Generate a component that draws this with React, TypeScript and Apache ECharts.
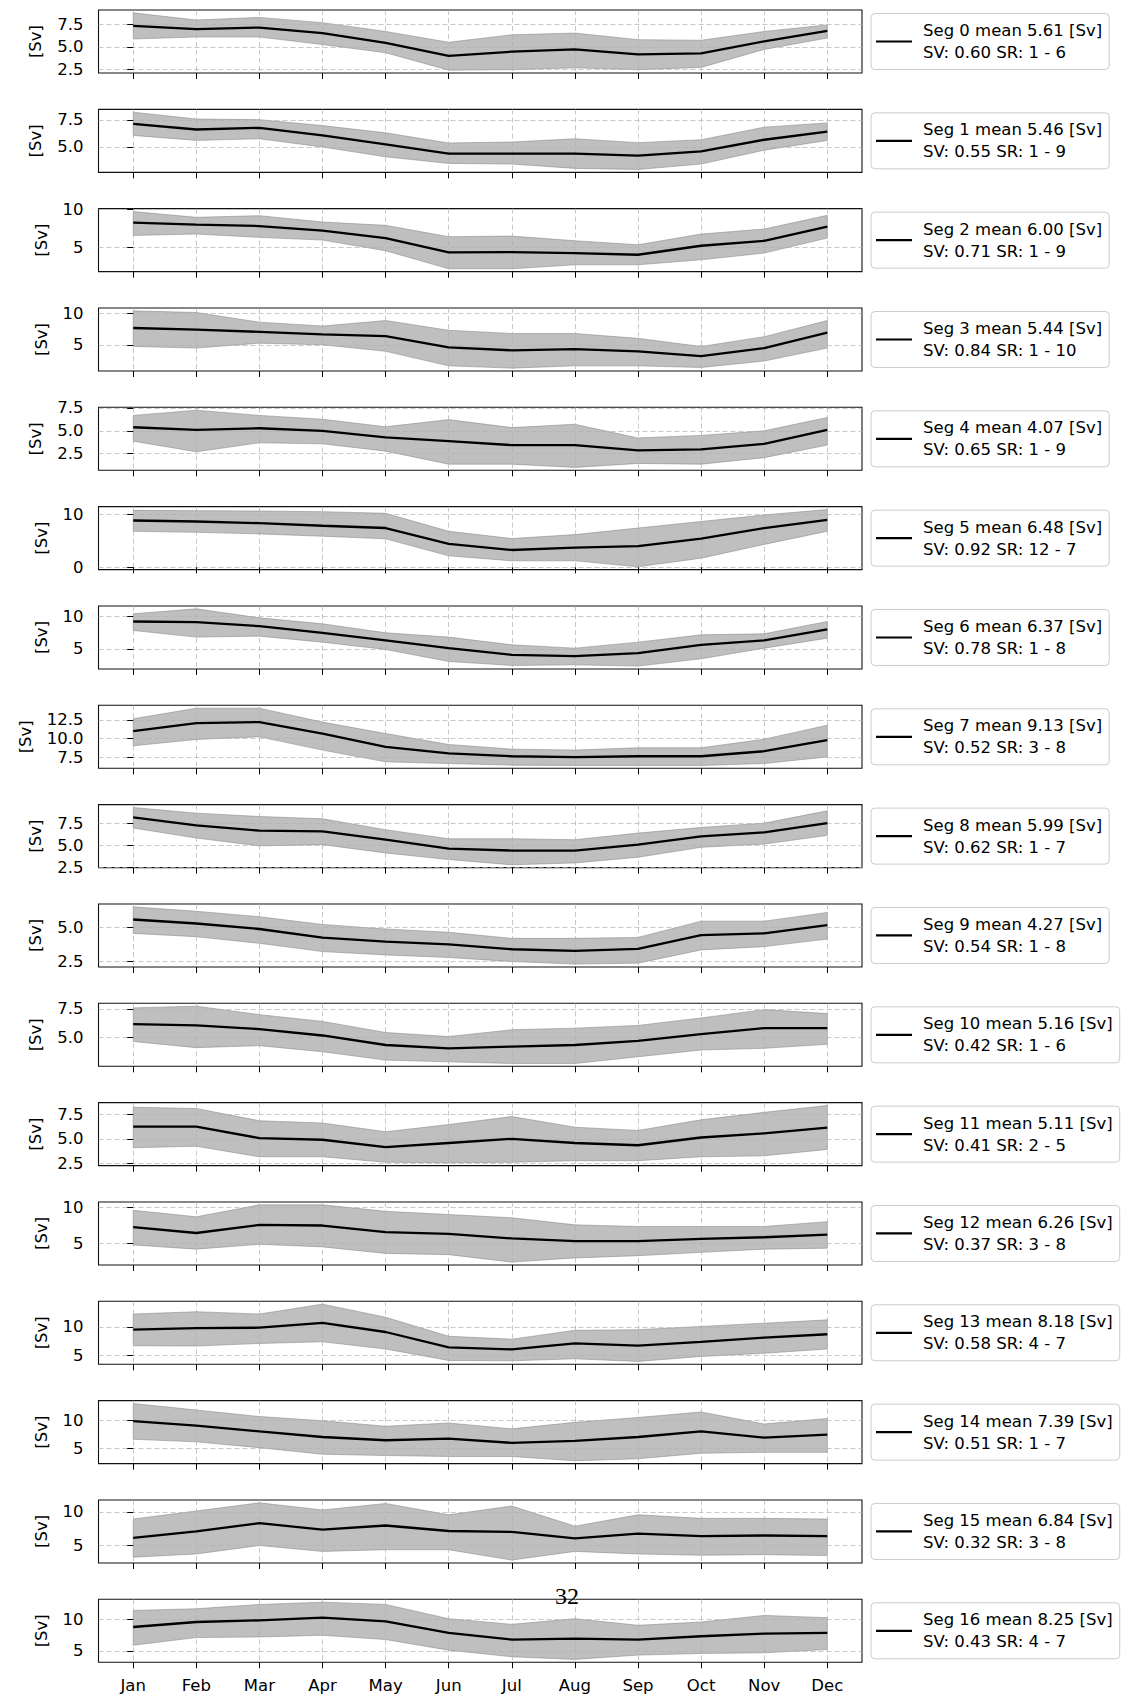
import React, { useEffect, useRef } from "react";
import * as echarts from "echarts";

// ---------- data ----------
const months = ["Jan", "Feb", "Mar", "Apr", "May", "Jun", "Jul", "Aug", "Sep", "Oct", "Nov", "Dec"];

const segMeanText = ["5.61", "5.46", "6.00", "5.44", "4.07", "6.48", "6.37", "9.13", "5.99", "4.27", "5.16", "5.11", "6.26", "8.18", "7.39", "6.84", "8.25"];
const segSV = ["0.60", "0.55", "0.71", "0.84", "0.65", "0.92", "0.78", "0.52", "0.62", "0.54", "0.42", "0.41", "0.37", "0.58", "0.51", "0.32", "0.43"];
const segSR = ["1 - 6", "1 - 9", "1 - 9", "1 - 10", "1 - 9", "12 - 7", "1 - 8", "3 - 8", "1 - 7", "1 - 8", "1 - 6", "2 - 5", "3 - 8", "4 - 7", "1 - 7", "3 - 8", "4 - 7"];

const yTicks = [
  [2.5, 5.0, 7.5],
  [5.0, 7.5],
  [5, 10],
  [5, 10],
  [2.5, 5.0, 7.5],
  [0, 10],
  [5, 10],
  [7.5, 10.0, 12.5],
  [2.5, 5.0, 7.5],
  [2.5, 5.0],
  [5.0, 7.5],
  [2.5, 5.0, 7.5],
  [5, 10],
  [5, 10],
  [5, 10],
  [5, 10],
  [5, 10],
];

const meanValues = [
  [7.32, 6.96, 7.14, 6.53, 5.45, 4.01, 4.48, 4.73, 4.19, 4.30, 5.63, 6.78],
  [7.13, 6.62, 6.77, 6.07, 5.24, 4.39, 4.39, 4.39, 4.21, 4.60, 5.67, 6.43],
  [8.27, 8.01, 7.83, 7.21, 6.24, 4.34, 4.38, 4.25, 4.03, 5.22, 5.88, 7.74],
  [7.68, 7.42, 7.06, 6.65, 6.39, 4.59, 4.12, 4.33, 3.97, 3.20, 4.48, 6.96],
  [5.39, 5.11, 5.28, 5.00, 4.29, 3.87, 3.44, 3.44, 2.87, 2.98, 3.58, 5.11],
  [8.83, 8.64, 8.33, 7.84, 7.41, 4.44, 3.27, 3.70, 4.01, 5.43, 7.41, 8.95],
  [9.18, 9.08, 8.47, 7.45, 6.28, 5.10, 4.08, 3.88, 4.34, 5.61, 6.28, 7.96],
  [10.97, 12.06, 12.19, 10.66, 8.89, 8.01, 7.63, 7.50, 7.63, 7.63, 8.30, 9.78],
  [8.14, 7.24, 6.64, 6.56, 5.62, 4.62, 4.39, 4.39, 5.06, 6.00, 6.45, 7.50],
  [5.55, 5.26, 4.86, 4.23, 3.94, 3.75, 3.39, 3.27, 3.41, 4.42, 4.54, 5.14],
  [6.18, 6.06, 5.74, 5.18, 4.35, 4.06, 4.21, 4.35, 4.71, 5.29, 5.82, 5.82],
  [6.25, 6.25, 5.07, 4.90, 4.14, 4.57, 5.00, 4.57, 4.34, 5.13, 5.56, 6.15],
  [7.26, 6.46, 7.57, 7.48, 6.59, 6.33, 5.71, 5.35, 5.35, 5.66, 5.88, 6.24],
  [9.48, 9.77, 9.83, 10.69, 9.08, 6.38, 6.03, 7.07, 6.67, 7.36, 8.10, 8.68],
  [9.94, 9.12, 8.06, 7.06, 6.47, 6.76, 6.00, 6.35, 7.06, 8.06, 6.94, 7.47],
  [6.15, 7.12, 8.32, 7.36, 7.98, 7.16, 7.02, 6.06, 6.78, 6.39, 6.49, 6.39],
  [8.83, 9.63, 9.89, 10.32, 9.73, 7.87, 6.81, 6.97, 6.81, 7.34, 7.77, 7.87],
];

const upperValues = [
  [8.76, 7.97, 8.26, 7.68, 6.71, 5.52, 6.35, 6.53, 5.81, 5.74, 6.71, 7.43],
  [8.22, 7.59, 7.53, 6.98, 6.31, 5.37, 5.46, 5.76, 5.40, 5.67, 6.83, 7.23],
  [9.75, 8.98, 9.20, 8.36, 7.92, 6.42, 6.50, 5.88, 5.35, 6.77, 7.43, 9.25],
  [10.41, 10.15, 8.61, 7.99, 8.87, 7.32, 6.80, 6.80, 6.03, 4.74, 6.29, 8.87],
  [6.68, 7.25, 6.68, 6.26, 5.44, 6.22, 5.35, 5.71, 4.22, 4.50, 5.00, 6.45],
  [10.74, 10.68, 10.62, 10.49, 10.19, 6.79, 5.43, 6.17, 7.41, 8.64, 9.88, 10.90],
  [10.36, 11.12, 9.74, 8.83, 7.45, 6.79, 5.61, 5.10, 6.02, 7.14, 7.30, 9.18],
  [12.63, 14.05, 14.05, 12.19, 10.66, 9.20, 8.58, 8.45, 8.76, 8.76, 9.91, 11.77],
  [9.27, 8.63, 8.25, 7.99, 6.75, 5.73, 5.73, 5.62, 6.37, 7.01, 7.50, 8.89],
  [6.47, 6.15, 5.75, 5.19, 4.86, 4.62, 4.18, 4.18, 4.25, 5.43, 5.43, 6.06],
  [7.59, 7.74, 7.00, 6.41, 5.44, 5.09, 5.68, 5.82, 6.06, 6.71, 7.44, 7.09],
  [8.22, 8.09, 6.84, 6.61, 5.72, 6.45, 7.27, 6.18, 5.85, 6.94, 7.70, 8.40],
  [9.56, 8.67, 10.31, 10.31, 9.42, 8.98, 8.54, 7.57, 7.35, 7.35, 7.35, 8.01],
  [12.24, 12.64, 12.24, 13.97, 11.67, 8.33, 7.82, 9.37, 9.48, 10.06, 10.63, 11.21],
  [13.12, 11.94, 10.76, 10.00, 9.00, 9.59, 8.53, 9.71, 10.59, 11.59, 9.41, 10.41],
  [8.94, 10.14, 11.35, 10.29, 11.25, 9.57, 10.87, 7.88, 9.57, 9.04, 9.04, 8.94],
  [11.49, 11.76, 12.45, 12.82, 12.45, 10.16, 9.26, 10.16, 9.10, 9.63, 10.69, 10.32],
];

const lowerValues = [
  [5.88, 6.10, 6.10, 5.27, 4.37, 2.45, 2.50, 2.70, 2.50, 2.75, 4.73, 5.99],
  [6.07, 5.61, 5.76, 5.00, 4.09, 3.48, 3.42, 3.02, 2.92, 3.42, 4.70, 5.61],
  [6.59, 6.77, 6.33, 5.97, 4.56, 2.17, 2.17, 2.70, 2.70, 3.36, 4.25, 6.24],
  [4.74, 4.48, 5.26, 5.00, 3.97, 1.65, 1.29, 1.65, 1.65, 1.39, 2.42, 4.48],
  [3.87, 2.71, 3.69, 3.58, 2.78, 1.36, 1.36, 1.00, 1.44, 1.36, 2.07, 3.44],
  [6.79, 6.60, 6.30, 5.86, 5.37, 2.16, 1.23, 1.23, 0.10, 1.73, 4.32, 6.79],
  [7.81, 6.79, 6.94, 6.02, 4.90, 3.06, 2.45, 2.55, 2.35, 3.47, 5.10, 6.63],
  [9.02, 9.87, 10.22, 8.45, 6.88, 6.66, 6.44, 6.40, 6.40, 6.40, 6.66, 7.54],
  [6.94, 5.81, 4.92, 5.06, 4.12, 3.37, 2.78, 2.99, 3.63, 4.76, 5.13, 6.11],
  [4.54, 4.30, 3.82, 3.22, 2.98, 2.79, 2.50, 2.31, 2.38, 3.34, 3.58, 4.13],
  [4.65, 4.12, 4.29, 3.76, 3.03, 2.88, 2.74, 2.74, 3.32, 3.91, 4.06, 4.41],
  [4.08, 4.24, 3.16, 3.16, 2.60, 2.55, 2.60, 2.76, 2.76, 3.16, 3.26, 3.91],
  [4.82, 4.25, 4.91, 4.56, 3.67, 3.50, 2.48, 3.05, 3.36, 3.81, 4.25, 4.38],
  [6.67, 6.61, 7.07, 7.36, 6.09, 4.08, 4.02, 4.37, 3.91, 4.77, 5.34, 6.09],
  [6.65, 6.18, 5.12, 3.94, 3.71, 3.53, 3.53, 2.76, 3.12, 4.12, 4.29, 4.29],
  [3.27, 3.75, 5.00, 4.13, 4.38, 4.38, 2.84, 4.13, 3.75, 3.56, 3.65, 3.51],
  [5.90, 7.13, 7.23, 7.50, 6.81, 5.11, 4.04, 3.62, 4.31, 4.57, 4.68, 5.21],
];

const pageLabel = "32";

// ---------- layout / style ----------
const W = 1128;
const H = 1697;
const FRAME_L = 98.5;
const FRAME_W = 763.5;
const TOP0 = 10;
const PITCH = 99.33;
const PH = 63;
const FONT = "DejaVu Sans";
const FS = 16.5;
const GRID_LINE = "rgba(176,176,176,0.7)";
const BAND = "rgba(128,128,128,0.5)";

function textWidth(s: string): number {
  let w = 0;
  for (const ch of s) w += ch === "." ? 0.318 : 0.636;
  return w * FS;
}

function buildOption() {
  const grid: any[] = [];
  const xAxis: any[] = [];
  const yAxis: any[] = [];
  const series: any[] = [];
  const legend: any[] = [];
  const n = meanValues.length;
  const xIdx = months.map((_, k) => k);

  meanValues.forEach((mean, i) => {
    const top = TOP0 + PITCH * i;
    const lo = lowerValues[i];
    const hi = upperValues[i];
    const dMin = Math.min(...lo, ...mean);
    const dMax = Math.max(...hi, ...mean);
    const pad = 0.05 * (dMax - dMin);
    const ticks = yTicks[i];
    const step = ticks[1] - ticks[0];
    const dec = step % 1 === 0 ? 0 : 1;
    const labels = ticks.map((t) => t.toFixed(dec));
    const maxW = Math.max(...labels.map(textWidth));
    const isLast = i === n - 1;

    grid.push({
      left: FRAME_L,
      top,
      width: FRAME_W,
      height: PH,
      show: true,
      borderColor: "#111111",
      borderWidth: 1.1,
      backgroundColor: "transparent",
      containLabel: false,
      outerBoundsMode: "none",
    });

    xAxis.push({
      type: "value",
      gridIndex: i,
      min: -0.55,
      max: 11.55,
      axisLine: { show: false },
      axisTick: {
        show: true,
        inside: false,
        length: 6,
        customValues: xIdx,
        lineStyle: { color: "#000", width: 1 },
      },
      axisLabel: {
        show: isLast,
        customValues: xIdx,
        formatter: (v: number) => months[Math.round(v)] ?? "",
        fontFamily: FONT,
        fontSize: FS,
        color: "#000",
        margin: 15,
      },
      splitLine: { show: true, lineStyle: { color: GRID_LINE, type: [5, 3], width: 1 } },
    });

    yAxis.push({
      type: "value",
      gridIndex: i,
      min: dMin - pad,
      max: dMax + pad,
      name: "[Sv]",
      nameLocation: "middle",
      nameGap: 15 + maxW + 13,
      nameTextStyle: { fontFamily: FONT, fontSize: FS, color: "#000" },
      axisLine: { show: false },
      axisTick: {
        show: true,
        inside: false,
        length: 6,
        customValues: ticks,
        lineStyle: { color: "#000", width: 1 },
      },
      axisLabel: {
        show: true,
        customValues: ticks,
        formatter: (v: number) => v.toFixed(dec),
        fontFamily: FONT,
        fontSize: FS,
        color: "#000",
        margin: 15,
      },
      splitLine: { show: true, lineStyle: { color: GRID_LINE, type: [5, 3], width: 1 } },
    });

    const name = `Seg ${i} mean ${segMeanText[i]} [Sv]\nSV: ${segSV[i]} SR: ${segSR[i]}`;

    series.push({
      name: `band ${i}`,
      type: "custom",
      xAxisIndex: i,
      yAxisIndex: i,
      data: lo.map((v, k) => [k, v, hi[k]]),
      encode: { x: 0, y: [1, 2] },
      clip: true,
      silent: true,
      z: -1,
      renderItem: (params: any, api: any) => {
        if (params.dataIndex !== 0) return null;
        const upperPts = hi.map((v, k) => api.coord([k, v]));
        const lowerPts = lo.map((v, k) => api.coord([k, v])).reverse();
        return {
          type: "polygon",
          shape: { points: [...upperPts, ...lowerPts] },
          style: { fill: BAND, stroke: BAND, lineWidth: 1 },
        };
      },
    });
    series.push({
      name,
      type: "line",
      xAxisIndex: i,
      yAxisIndex: i,
      data: mean.map((v, k) => [k, v]),
      showSymbol: false,
      symbol: "none",
      color: "#000",
      itemStyle: { color: "#000" },
      lineStyle: { color: "#000", width: 2.3 },
      z: 3,
    });

    legend.push({
      data: [{ name, icon: "rect" }],
      left: 871,
      top: top + PH / 2 - 28,
      orient: "vertical",
      itemWidth: 36,
      itemHeight: 2.2,
      padding: [6, 7, 6, 5],
      backgroundColor: "rgba(255,255,255,0.8)",
      borderColor: "#cccccc",
      borderWidth: 1,
      borderRadius: 4,
      selectedMode: false,
      textStyle: {
        fontFamily: FONT,
        fontSize: FS,
        lineHeight: 22,
        color: "#000",
        padding: [0, 0, 0, 6],
      },
    });
  });

  return {
    animation: false,
    backgroundColor: "#ffffff",
    grid,
    xAxis,
    yAxis,
    series,
    legend,
    graphic: [
      {
        type: "text",
        x: 567,
        y: 1596,
        z: 100,
        style: {
          text: pageLabel,
          fontFamily: "Liberation Serif",
          fontSize: 24,
          fill: "#000",
          align: "center",
          verticalAlign: "middle",
        },
      },
    ],
  };
}

export default function App() {
  const ref = useRef<HTMLDivElement>(null);
  useEffect(() => {
    if (!ref.current) return;
    const chart = echarts.init(ref.current, null, { renderer: "svg", width: W, height: H });
    chart.setOption(buildOption() as any);
    return () => chart.dispose();
  }, []);
  return (
    <div
      ref={ref}
      style={{ position: "absolute", left: 0, top: 0, width: W, height: H, background: "#fff" }}
    />
  );
}
